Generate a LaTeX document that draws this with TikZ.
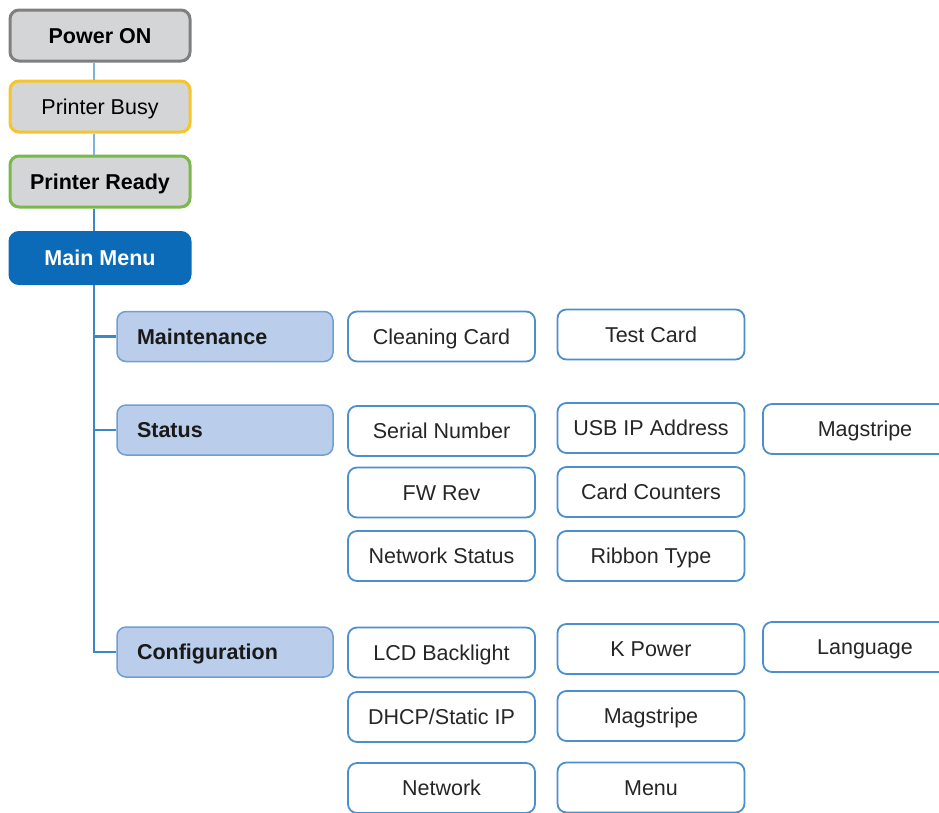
\documentclass[tikz,border=0pt]{standalone}
\usepackage{fontspec}
\setmainfont{Liberation Sans}
\definecolor{topgray}{HTML}{D4D5D7}
\definecolor{pwrborder}{HTML}{7F7F7F}
\definecolor{busyborder}{HTML}{F7C52A}
\definecolor{readyborder}{HTML}{79B84A}
\definecolor{mainblue}{HTML}{0B6BB8}
\definecolor{catfill}{HTML}{BACDEB}
\definecolor{catborder}{HTML}{6E9FD4}
\definecolor{leafblue}{HTML}{4B8FCF}
\definecolor{leaftext}{HTML}{262626}
\definecolor{connlight}{HTML}{7FB2DE}
\definecolor{connblue}{HTML}{3F86C8}
\begin{document}
\begin{tikzpicture}[x=1pt,y=-1pt,
  base/.style={rectangle, rounded corners=9pt, inner sep=0pt, text height=15.5pt, text depth=0pt, font=\fontsize{21.5}{24}\selectfont},
  topbox/.style={base, fill=topgray, line width=3pt, minimum width=180pt, minimum height=51pt, text=black},
  leaf/.style={base, draw=leafblue, line width=1.8pt, fill=white, minimum width=187pt, minimum height=50pt, text=leaftext},
  catbox/.style={base, draw=catborder, fill=catfill, line width=1.5pt, minimum height=50pt, text width=176pt, inner xsep=20pt, align=left, font=\fontsize{21.5}{24}\selectfont\bfseries, text=black!90},
  conn/.style={draw=connblue, line width=2.2pt},
  connl/.style={draw=connlight, line width=2.2pt}]
\useasboundingbox (0,0) rectangle (939,812);
\clip (0,0) rectangle (939,812);

\node[topbox, draw=pwrborder, font=\fontsize{21.5}{24}\selectfont\bfseries] (pwr) at (100,35.5) {Power ON};
\node[topbox, draw=busyborder] (busy) at (100,106.5) {Printer Busy};
\node[topbox, draw=readyborder, font=\fontsize{21.5}{24}\selectfont\bfseries] (ready) at (100,181.5) {Printer Ready};
\node[topbox, fill=mainblue, draw=mainblue, text=white, font=\fontsize{21.5}{24}\selectfont\bfseries] (main) at (100,258) {Main Menu};

\node[catbox] (maint) at (225,336.5) {Maintenance};
\node[catbox] (status) at (225,430) {Status};
\node[catbox] (conf) at (225,652) {Configuration};

\node[leaf] (cc) at (441.5,336.5) {Cleaning Card};
\node[leaf] (tc) at (651,334.5) {Test Card};
\node[leaf] (sn) at (441.5,431) {Serial Number};
\node[leaf] (usb) at (651,428) {USB IP Address};
\node[leaf, minimum width=204pt] (mag1) at (865,429) {Magstripe};
\node[leaf] (fw) at (441.5,492.5) {FW Rev};
\node[leaf] (cnt) at (651,492) {Card Counters};
\node[leaf] (ns) at (441.5,556) {Network Status};
\node[leaf] (rib) at (651,556) {Ribbon Type};
\node[leaf] (lcd) at (441.5,652.5) {LCD Backlight};
\node[leaf] (kp) at (651,649) {K Power};
\node[leaf, minimum width=204pt] (lang) at (865,647) {Language};
\node[leaf] (dhcp) at (441.5,717) {DHCP/Static IP};
\node[leaf] (mag2) at (651,716) {Magstripe};
\node[leaf] (net) at (441.5,788) {Network};
\node[leaf] (menu) at (651,787.5) {Menu};

\draw[connl] ([xshift=-6pt]pwr.south) -- ([xshift=-6pt]busy.north);
\draw[connl] ([xshift=-6pt]busy.south) -- ([xshift=-6pt]ready.north);
\draw[conn] ([xshift=-6pt]ready.south) -- ([xshift=-6pt]main.north);
\draw[conn] ([xshift=-6pt]main.south) |- (maint.west);
\draw[conn] ([xshift=-6pt]main.south) |- (status.west);
\draw[conn] ([xshift=-6pt]main.south) |- (conf.west);
\end{tikzpicture}
\end{document}
